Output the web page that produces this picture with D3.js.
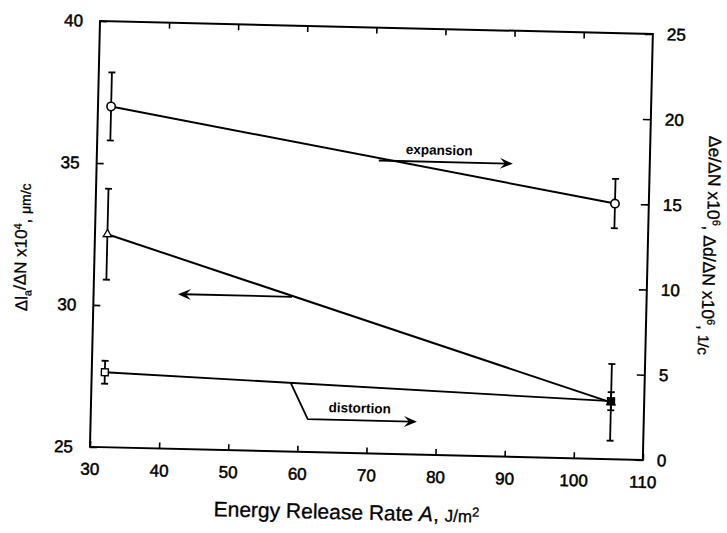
<!DOCTYPE html>
<html>
<head>
<meta charset="utf-8">
<script src="https://cdn.jsdelivr.net/npm/d3@7"></script>
<style>
  html, body { margin: 0; padding: 0; background: #fff; }
  svg { display: block; font-family: "Liberation Sans", Arial, sans-serif; }
</style>
</head>
<body>
<svg id="chart" width="727" height="533"></svg>
<script>
// ---- data ----
const xTicks = [30, 40, 50, 60, 70, 80, 90, 100, 110];
const leftTicks = [25, 30, 35, 40];
const rightTicks = [0, 5, 10, 15, 20, 25];

// expansion (right axis), circles
const expansionX = [31.9, 105.1];
const expansionY = [20.0, 15.0];
const expansionErr = [2.0, 1.45];

// crack growth (left axis), triangles
const growthX = [31.8, 105.2];
const growthY = [32.5, 27.0];
const growthErr = [1.6, 1.35];

// distortion (right axis), squares
const distortionX = [31.9, 105.2];
const distortionY = [4.4, 3.4];
const distortionErr = [0.67, 0.53];

// annotations (data coordinates)
const expansionArrowX = [70.8, 90.2];
const expansionArrowY = 17.2;       // right axis
const expansionLabel = { x: 79.5, y: 17.9, text: "expansion" };
const growthArrowX = [58.7, 42.2];
const growthArrowY = 30.45;         // left axis
const distortionLeaderX = [58.8, 61.4, 77.2];
const distortionLeaderY = [4.05, 1.93, 1.93]; // right axis
const distortionLabel = { x: 68.9, y: 2.65, text: "distortion" };

// ---- layout ----
const W = 553, H = 426;
const svg = d3.select("#chart");
const g = svg.append("g").attr("transform", "translate(100,21) rotate(1.35)");

const x = d3.scaleLinear().domain([30, 110]).range([0, W]);
const yL = d3.scaleLinear().domain([25, 40]).range([H, 0]);
const yR = d3.scaleLinear().domain([0, 25]).range([H, 0]);

const tickFont = 17;

// axes
const ax = g.append("g").attr("transform", `translate(0,${H})`)
  .call(d3.axisBottom(x).tickValues(xTicks).tickSizeInner(-6).tickSizeOuter(0).tickPadding(22));
const axT = g.append("g")
  .call(d3.axisTop(x).tickValues(xTicks.slice(1, -1)).tickSizeInner(-6).tickSizeOuter(0).tickFormat(""));
const ayL = g.append("g")
  .call(d3.axisLeft(yL).tickValues(leftTicks).tickSizeInner(-7).tickSizeOuter(0).tickPadding(17));
const ayR = g.append("g").attr("transform", `translate(${W},0)`)
  .call(d3.axisRight(yR).tickValues(rightTicks).tickSizeInner(-8).tickSizeOuter(0).tickPadding(14));

[ax, axT, ayL, ayR].forEach(a => {
  a.select(".domain").remove();
  a.selectAll(".tick line").attr("stroke", "#000").attr("stroke-width", 1.6);
  a.selectAll(".tick text").attr("fill", "#000").attr("font-size", tickFont)
    .attr("stroke", "#000").attr("stroke-width", 0.5);
});
ax.selectAll(".tick text").attr("dy", "0.35em");

// frame
g.append("rect").attr("x", 0).attr("y", 0).attr("width", W).attr("height", H)
  .attr("fill", "none").attr("stroke", "#000").attr("stroke-width", 2);

// lines
const lineStyle = sel => sel.attr("fill", "none").attr("stroke", "#000").attr("stroke-width", 2);
g.append("path").datum(expansionX.map((d, i) => [x(d), yR(expansionY[i])]))
  .attr("d", d3.line()).call(lineStyle);
g.append("path").datum(growthX.map((d, i) => [x(d), yL(growthY[i])]))
  .attr("d", d3.line()).call(lineStyle);
g.append("path").datum(distortionX.map((d, i) => [x(d), yR(distortionY[i])]))
  .attr("d", d3.line()).attr("fill", "none").attr("stroke", "#000").attr("stroke-width", 1.8);

// error bars
function errBars(xs, ys, es, yS) {
  const eb = g.append("g").attr("stroke", "#000").attr("stroke-width", 1.8);
  xs.forEach((d, i) => {
    const cx = x(d), y1 = yS(ys[i] + es[i]), y2 = yS(ys[i] - es[i]);
    eb.append("line").attr("x1", cx).attr("x2", cx).attr("y1", y1).attr("y2", y2);
    eb.append("line").attr("x1", cx - 3.5).attr("x2", cx + 3.5).attr("y1", y1).attr("y2", y1);
    eb.append("line").attr("x1", cx - 3.5).attr("x2", cx + 3.5).attr("y1", y2).attr("y2", y2);
  });
}
errBars(expansionX, expansionY, expansionErr, yR);
errBars(growthX, growthY, growthErr, yL);
errBars(distortionX, distortionY, distortionErr, yR);

// markers
g.selectAll(".circ").data(expansionX).join("circle")
  .attr("cx", d => x(d)).attr("cy", (d, i) => yR(expansionY[i])).attr("r", 4.2)
  .attr("fill", "#fff").attr("stroke", "#000").attr("stroke-width", 1.6);
g.selectAll(".tri").data(growthX).join("path")
  .attr("transform", (d, i) => `translate(${x(d)},${yL(growthY[i])})`)
  .attr("d", d3.symbol(d3.symbolTriangle, 30))
  .attr("fill", (d, i) => i === 0 ? "#fff" : "#000").attr("stroke", "#000").attr("stroke-width", 1.3);
g.selectAll(".sq").data(distortionX).join("path")
  .attr("transform", (d, i) => `translate(${x(d)},${yR(distortionY[i])})`)
  .attr("d", d3.symbol(d3.symbolSquare, 48))
  .attr("fill", (d, i) => i === 0 ? "#fff" : "#000").attr("stroke", "#000").attr("stroke-width", 1.4);

// arrows
function arrowHead(px, py, dir) {
  const L = 13, Wd = 5.5, notch = 8;
  const p = [[px, py], [px - dir * L, py - Wd], [px - dir * notch, py], [px - dir * L, py + Wd]];
  g.append("path").attr("d", "M" + p.map(q => q.join(",")).join("L") + "Z").attr("fill", "#000");
}
const arrowStyle = sel => sel.attr("stroke", "#000").attr("stroke-width", 1.8).attr("fill", "none");

g.append("line").attr("x1", x(expansionArrowX[0])).attr("x2", x(expansionArrowX[1]) - 6)
  .attr("y1", yR(expansionArrowY)).attr("y2", yR(expansionArrowY)).call(arrowStyle);
arrowHead(x(expansionArrowX[1]), yR(expansionArrowY), 1);

g.append("line").attr("x1", x(growthArrowX[0])).attr("x2", x(growthArrowX[1]) + 6)
  .attr("y1", yL(growthArrowY)).attr("y2", yL(growthArrowY)).call(arrowStyle);
arrowHead(x(growthArrowX[1]), yL(growthArrowY), -1);

const lead = distortionLeaderX.map((d, i) => [x(d), yR(distortionLeaderY[i])]);
lead[2] = [lead[2][0] - 6, lead[2][1]];
g.append("path").attr("d", d3.line()(lead)).call(arrowStyle);
arrowHead(x(distortionLeaderX[2]), yR(distortionLeaderY[2]), 1);

// annotation labels
g.append("text").attr("x", x(expansionLabel.x)).attr("y", yR(expansionLabel.y))
  .attr("text-anchor", "middle").attr("dy", "0.35em")
  .attr("font-size", 13.5).attr("font-weight", "bold").text(expansionLabel.text);
g.append("text").attr("x", x(distortionLabel.x)).attr("y", yR(distortionLabel.y))
  .attr("text-anchor", "middle").attr("dy", "0.35em")
  .attr("font-size", 13.5).attr("font-weight", "bold").text(distortionLabel.text);

// axis titles
const xt = g.append("text").attr("x", 258).attr("y", 485).attr("text-anchor", "middle")
  .attr("dy", "0.35em").attr("font-size", 21).attr("stroke", "#000").attr("stroke-width", 0.3);
xt.append("tspan").text("Energy Release Rate ");
xt.append("tspan").attr("font-style", "italic").text("A");
xt.append("tspan").text(", ");
xt.append("tspan").attr("font-size", 17).text("J/m");
xt.append("tspan").attr("font-size", 13).attr("dy", "-0.45em").text("2");

const lt = g.append("text").attr("transform", "translate(-72,228) rotate(-90)")
  .attr("text-anchor", "middle").attr("dy", "0.35em").attr("font-size", 17)
  .attr("stroke", "#000").attr("stroke-width", 0.3);
lt.append("tspan").text("Δl");
lt.append("tspan").attr("font-size", 11).attr("dy", "0.35em").text("a");
lt.append("tspan").attr("dy", "-0.35em").text("/ΔN  x10");
lt.append("tspan").attr("font-size", 11).attr("dy", "-0.5em").text("4");
lt.append("tspan").attr("dy", "0.5em").text(", ");
lt.append("tspan").attr("font-size", 14).text("μm/c");

const rt = g.append("text").attr("transform", `translate(${W + 65},210) rotate(90)`)
  .attr("text-anchor", "middle").attr("dy", "0.35em").attr("font-size", 17.5)
  .attr("stroke", "#000").attr("stroke-width", 0.3);
rt.append("tspan").text("Δe/ΔN x10");
rt.append("tspan").attr("font-size", 11).attr("dy", "-0.5em").text("6");
rt.append("tspan").attr("dy", "0.5em").text(", Δd/ΔN x10");
rt.append("tspan").attr("font-size", 11).attr("dy", "-0.5em").text("6");
rt.append("tspan").attr("dy", "0.5em").text(", ");
rt.append("tspan").attr("font-size", 15).text("1/c");
</script>
</body>
</html>
